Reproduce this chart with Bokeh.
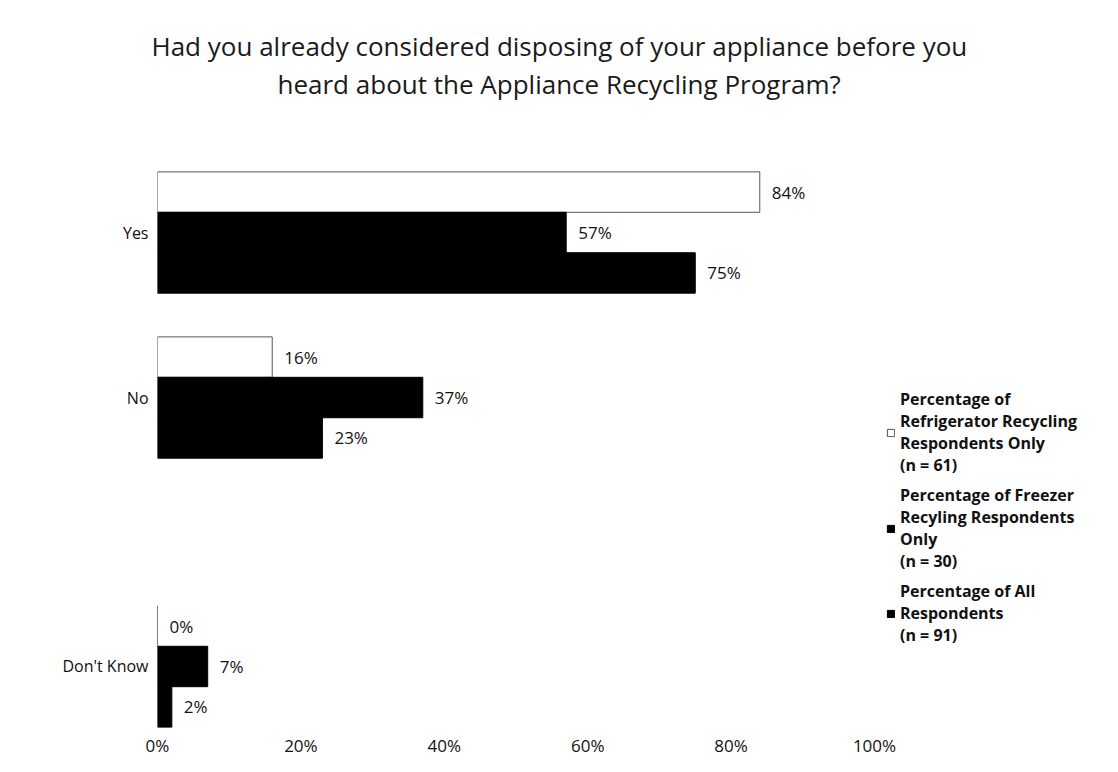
from bokeh.plotting import figure
from bokeh.models import (FactorRange, Range1d, FixedTicker, ColumnDataSource, Legend,
                          LegendItem, Title, PrintfTickFormatter)
from bokeh.transform import dodge
from bokeh.core.properties import value
from bokeh.embed import file_html
from bokeh.resources import INLINE

# ---------------- data ----------------
title_line1 = "Had you already considered disposing of your appliance before you"
title_line2 = "heard about the Appliance Recycling Program?"
categories = ["Yes", "No", "Don't Know"]
# hidden grouping: wider gap before "Don't Know"
groups = ["  ", "  ", " "]
series_labels = [
    "Percentage of\nRefrigerator Recycling\nRespondents Only\n(n = 61)",
    "Percentage of Freezer\nRecyling Respondents\nOnly\n(n = 30)",
    "Percentage of All\nRespondents\n(n = 91)",
]
refrigerator = [84, 16, 0]
freezer = [57, 37, 7]
all_respondents = [75, 23, 2]
x_ticks = [0, 20, 40, 60, 80, 100]

FONT = "Open Sans"

factors = [(g, c) for g, c in zip(groups, categories)][::-1]
cat = [(g, c) for g, c in zip(groups, categories)]

src = ColumnDataSource(dict(
    cat=cat,
    ref=refrigerator, frz=freezer, alls=all_respondents,
    ref_t=[f"{v}%" for v in refrigerator],
    frz_t=[f"{v}%" for v in freezer],
    all_t=[f"{v}%" for v in all_respondents],
))

y_range = FactorRange(*factors, group_padding=0.63, range_padding=-0.112,
                      range_padding_units="absolute")

p = figure(frame_width=717, frame_height=562, y_range=y_range, x_range=Range1d(0, 100),
           output_backend="svg", toolbar_location=None,
           min_border_left=157, min_border_right=0, min_border_top=168,
           min_border_bottom=42)
p.outline_line_color = None
p.background_fill_color = "white"
p.border_fill_color = "white"
p.xgrid.grid_line_color = None
p.ygrid.grid_line_color = None

H = 0.245
r_ref = p.hbar(y=dodge("cat", H, range=p.y_range), right="ref", left=0, height=H,
               source=src, fill_color="white", line_color="#555555", line_width=1)
r_frz = p.hbar(y=dodge("cat", 0, range=p.y_range), right="frz", left=0, height=H,
               source=src, fill_color="#000000", line_color="#000000")
r_all = p.hbar(y=dodge("cat", -H, range=p.y_range), right="alls", left=0, height=H,
               source=src, fill_color="#000000", line_color="#000000")

for col, off in (("ref", H), ("frz", 0), ("alls", -H)):
    tcol = {"ref": "ref_t", "frz": "frz_t", "alls": "all_t"}[col]
    p.text(x=col, y=dodge("cat", off, range=p.y_range), text=tcol, source=src,
           x_offset=12, text_baseline="middle", text_align="left",
           text_font=value(FONT), text_font_size="17px", text_color="#111111")

# axes
p.xaxis.ticker = FixedTicker(ticks=x_ticks)
p.xaxis.formatter = PrintfTickFormatter(format="%d%%")
for ax in (p.xaxis[0], p.yaxis[0]):
    ax.axis_line_color = None
    ax.major_tick_line_color = None
    ax.minor_tick_line_color = None
    ax.major_tick_out = 0
    ax.major_label_text_font = FONT
    ax.major_label_text_color = "#111111"
p.xaxis.major_label_text_font_size = "17px"
p.yaxis.major_label_text_font_size = "16px"
p.xaxis.major_label_standoff = 3
p.yaxis.major_label_standoff = 9
p.yaxis.group_text_font_size = "0px"
p.yaxis.separator_line_color = None

legend = Legend(items=[
    LegendItem(label=series_labels[0], renderers=[r_ref]),
    LegendItem(label=series_labels[1], renderers=[r_frz]),
    LegendItem(label=series_labels[2], renderers=[r_all]),
], location=(12, 84), orientation="vertical", margin=14, padding=18, spacing=8,
    glyph_width=9, glyph_height=9, label_standoff=5,
    label_text_font=FONT, label_text_font_size="16px", label_text_font_style="bold",
    label_text_line_height=2.15,
    label_text_color="#111111", border_line_color=None, background_fill_alpha=0)
p.add_layout(legend, "right")

# title: spacer panel, then the two title lines stacked above it
spacer = Title(text=" ", text_font_size="10px", standoff=54)
t2 = Title(text=title_line2, align="left", offset=120, text_font=FONT,
           text_font_size="26px", text_font_style="normal", text_color="#1a1a1a",
           vertical_align="bottom", standoff=0)
t1 = Title(text=title_line1, align="left", offset=-6, text_font=FONT,
           text_font_size="26px", text_font_style="normal", text_color="#1a1a1a",
           vertical_align="bottom", standoff=0)
p.add_layout(spacer, "above")
p.add_layout(t2, "above")
p.add_layout(t1, "above")

open("out.html", "w").write(file_html(p, INLINE))
